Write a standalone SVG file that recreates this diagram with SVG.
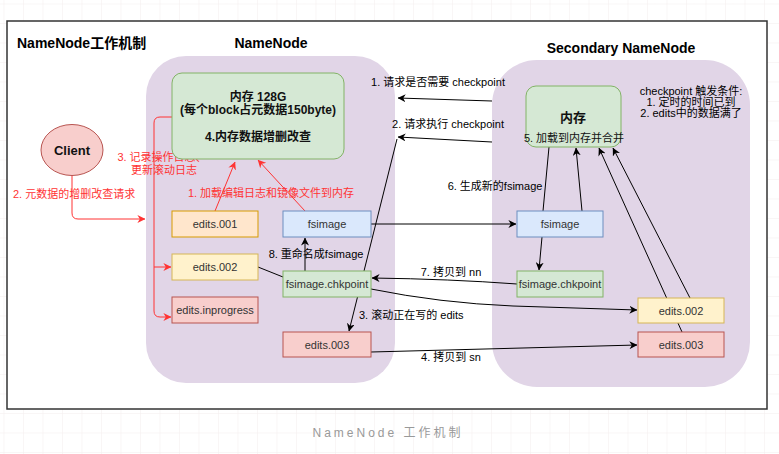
<svg xmlns="http://www.w3.org/2000/svg" width="779" height="454" viewBox="0 0 779 454">
<defs>
<pattern id="grid" width="19.5" height="19.5" patternUnits="userSpaceOnUse" x="3.5" y="3.5"><path d="M19.5,0 L0,0 0,19.5" fill="none" stroke="#f3eeee" stroke-width="1"/></pattern>
<marker id="ab" viewBox="0 0 10 10" refX="9.5" refY="5" markerWidth="8" markerHeight="8" markerUnits="userSpaceOnUse" orient="auto"><path d="M0,0 L10,5 L0,10 L3,5 z" fill="#000"/></marker>
<marker id="ar" viewBox="0 0 10 10" refX="9.5" refY="5" markerWidth="8" markerHeight="8" markerUnits="userSpaceOnUse" orient="auto"><path d="M0,0 L10,5 L0,10 L3,5 z" fill="#ff3333"/></marker>
</defs>
<style>
text{font-family:"Liberation Sans","Noto Sans CJK SC",sans-serif;dominant-baseline:central}
.h{font-size:14px;font-weight:bold;fill:#000}
.hm{font-size:14px;font-weight:bold;fill:#000;text-anchor:middle}
.n{font-size:11px;fill:#333;text-anchor:middle}
.b{font-size:12px;font-weight:bold;fill:#111;text-anchor:middle}
.l{font-size:11px;fill:#000;text-anchor:middle}
.ls{font-size:11px;fill:#000}
.r{font-size:11px;fill:#ff3333;text-anchor:middle}
.rs{font-size:11px;fill:#ff3333}
.c{fill:none;stroke:#000;stroke-width:1}
.rc{fill:none;stroke:#ff3333;stroke-width:1}
</style>
<rect x="0" y="0" width="779" height="454" fill="#fff"/>
<rect x="0" y="0" width="779" height="454" fill="url(#grid)"/>
<rect x="7" y="21" width="760" height="388" fill="#fff" stroke="#333" stroke-width="1.5"/>
<g id="titles">
<text class="h" x="17" y="43">NameNode工作机制</text>
<text class="hm" x="271" y="43">NameNode</text>
<text class="hm" x="621" y="48">Secondary NameNode</text>
</g>
<g id="namenode-container"><rect x="146" y="56" width="249" height="327" rx="40" fill="#e1d5e7"/></g>
<g id="secondary-container"><rect x="492" y="60" width="258" height="327" rx="45" fill="#e1d5e7"/></g>
<g id="connectors">
<path class="rc" d="M72,175 L72,213 Q72,219 78,219 L145,219" marker-end="url(#ar)"/>
<path class="rc" d="M172,117 L160,117 Q154,117 154,123 L154,311 Q154,317 160,317 L171,317" marker-end="url(#ar)"/>
<path class="rc" d="M154,267 L171,267" marker-end="url(#ar)"/>
<path class="rc" d="M215,211 L235,162" marker-end="url(#ar)"/>
<path class="rc" d="M305,211 L258,160" marker-end="url(#ar)"/>
<path class="c" d="M492,101 L398,98" marker-end="url(#ab)"/>
<path class="c" d="M492,142 L398,137" marker-end="url(#ab)"/>
<path class="c" d="M397,139 L349,331" marker-end="url(#ab)"/>
<path class="c" d="M371,224 L516,224" marker-end="url(#ab)"/>
<path class="c" d="M549,147 L543,211"/>
<path class="c" d="M582,211 L576,148" marker-end="url(#ab)"/>
<path class="c" d="M682,332 L599,148" marker-end="url(#ab)"/>
<path class="c" d="M690,298 L613,148" marker-end="url(#ab)"/>
<path class="c" d="M542,237 L539,270" marker-end="url(#ab)"/>
<path class="c" d="M517,284 Q450,279 372,278" marker-end="url(#ab)"/>
<path class="c" d="M371,289 Q440,303 513,306 L637,310" marker-end="url(#ab)"/>
<path class="c" d="M258,267 L283,277"/>
<path class="c" d="M305,271 L305,238" marker-end="url(#ab)"/>
<path class="c" d="M371,352 L637,345" marker-end="url(#ab)"/>
<text class="l" x="438" y="82">1. 请求是否需要 checkpoint</text>
<text class="l" x="448" y="124">2. 请求执行 checkpoint</text>
<text class="ls" x="359" y="315">3. 滚动正在写的 edits</text>
<text class="l" x="495" y="186">6. 生成新的fsimage</text>
<text class="l" x="451" y="272">7. 拷贝到 nn</text>
<text class="l" x="316" y="254">8. 重命名成fsimage</text>
<text class="l" x="451" y="357">4. 拷贝到 sn</text>
<text class="r" x="162" y="157">3. 记录操作日志、</text>
<text class="r" x="164" y="170">更新滚动日志</text>
<text class="rs" x="13" y="194">2. 元数据的增删改查请求</text>
<text class="r" x="271" y="193">1. 加载编辑日志和镜像文件到内存</text>
</g>
<g id="client"><ellipse cx="72" cy="150" rx="31" ry="25.5" fill="#f8cecc" stroke="#b85450"/><text x="72" y="150" style="font-size:13px;font-weight:bold;fill:#111;text-anchor:middle">Client</text></g>
<g id="nn-memory"><rect x="172" y="73" width="172" height="86" rx="10" fill="#d5e8d4" stroke="#82b366"/>
<text class="b" x="258" y="97">内存 128G</text>
<text class="b" x="258" y="110">(每个block占元数据150byte)</text>
<text class="b" x="258" y="137">4.内存数据增删改查</text></g>
<g id="nn-edits001"><rect x="172" y="211" width="86" height="26" fill="#ffe6cc" stroke="#d79b00"/><text class="n" x="215" y="224">edits.001</text></g>
<g id="nn-edits002"><rect x="172" y="254" width="86" height="26" fill="#fff2cc" stroke="#d6b656"/><text class="n" x="215" y="267">edits.002</text></g>
<g id="nn-inprogress"><rect x="172" y="297" width="86" height="26" fill="#f8cecc" stroke="#b85450"/><text class="n" x="215" y="310">edits.inprogress</text></g>
<g id="nn-fsimage"><rect x="283" y="211" width="88" height="26" fill="#dae8fc" stroke="#6c8ebf"/><text class="n" x="327" y="224">fsimage</text></g>
<g id="nn-chkpoint"><rect x="283" y="271" width="88" height="26" fill="#d5e8d4" stroke="#82b366"/><text class="n" x="327" y="284">fsimage.chkpoint</text></g>
<g id="nn-edits003"><rect x="283" y="332" width="88" height="25" fill="#f8cecc" stroke="#b85450"/><text class="n" x="327" y="344.5">edits.003</text></g>
<g id="snn-memory"><rect x="526" y="86" width="95" height="61" rx="10" fill="#d5e8d4" stroke="#82b366"/>
<text x="573" y="117" style="font-size:13px;font-weight:bold;fill:#111;text-anchor:middle">内存</text>
<text x="574" y="138" style="font-size:11px;fill:#111;text-anchor:middle">5. 加载到内存并合并</text></g>
<g id="snn-conditions">
<text class="l" x="691" y="91">checkpoint 触发条件:</text>
<text class="l" x="691" y="102">1. 定时的时间已到</text>
<text class="l" x="691" y="113">2. edits中的数据满了</text>
</g>
<g id="snn-fsimage"><rect x="517" y="211" width="86" height="26" fill="#dae8fc" stroke="#6c8ebf"/><text class="n" x="560" y="224">fsimage</text></g>
<g id="snn-chkpoint"><rect x="517" y="271" width="86" height="26" fill="#d5e8d4" stroke="#82b366"/><text class="n" x="560" y="284">fsimage.chkpoint</text></g>
<g id="snn-edits002"><rect x="638" y="298" width="86" height="25" fill="#fff2cc" stroke="#d6b656"/><text class="n" x="681" y="310.5">edits.002</text></g>
<g id="snn-edits003"><rect x="638" y="332" width="86" height="25" fill="#f8cecc" stroke="#b85450"/><text class="n" x="681" y="344.5">edits.003</text></g>
<g id="caption"><text x="388" y="433" style="font-size:12px;fill:#999;text-anchor:middle;letter-spacing:3px">NameNode 工作机制</text></g>
</svg>
